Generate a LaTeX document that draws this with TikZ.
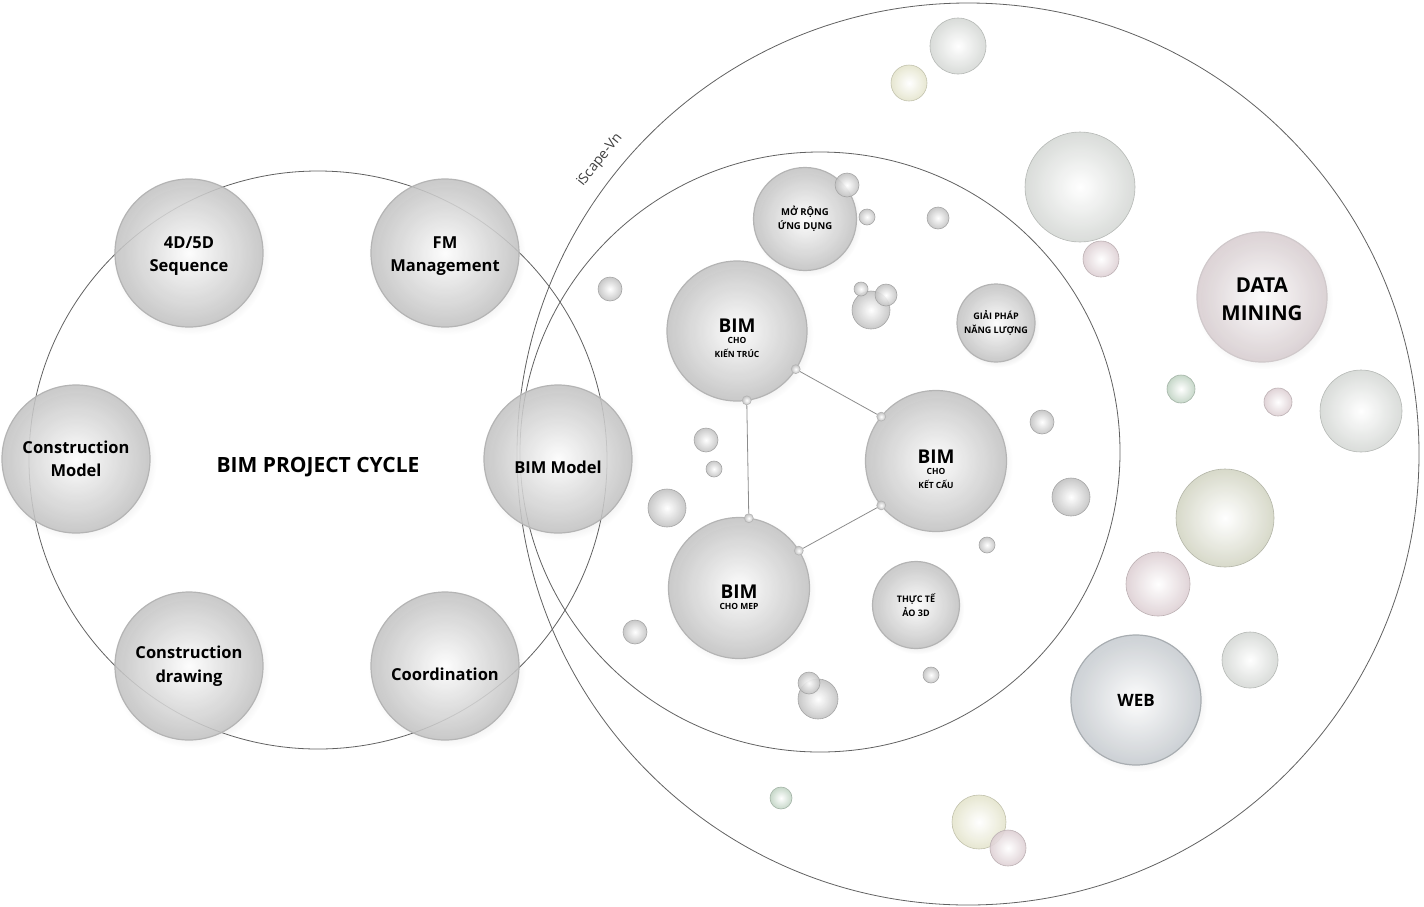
\documentclass[tikz,border=0pt]{standalone}
\usepackage{fontspec}
\setmainfont{Open Sans}
\usetikzlibrary{shadows,fadings}

\definecolor{ballgray}{HTML}{C2C2C2}
\definecolor{ballrim}{HTML}{B4B4B4}
\definecolor{pearlgray}{HTML}{D5D8D5}
\definecolor{pearlyellow}{HTML}{E4E4CC}
\definecolor{pearlpink}{HTML}{DDCFD3}
\definecolor{pearlgreen}{HTML}{C0D3C3}
\definecolor{pearlolive}{HTML}{D3D5C4}
\definecolor{pearlblue}{HTML}{C6CBD0}

\tikzstyle{ring} = [draw=black!62, line width=0.8pt]
\tikzstyle{sphere} = [circle, inner sep=0pt, outer sep=0pt, align=center,
    fill opacity=0.85, text opacity=1, inner color=white, outer color=ballgray,
    draw=ballrim, line width=1.2pt,
    circular drop shadow={shadow xshift=2pt, shadow yshift=-3pt, opacity=0.12, shadow scale=1.06}]
\tikzstyle{cyclefont} = [font=\bfseries\fontsize{16.5}{23.5}\selectfont]
\tikzstyle{smallfont} = [font=\bfseries\fontsize{8.5}{14}\selectfont]
\tikzstyle{joint} = [circle, inner sep=0pt, minimum size=9pt, inner color=white,
    outer color=ballgray, draw=ballrim, line width=0.6pt]
\tikzstyle{link} = [draw=black!45, line width=0.8pt]
\tikzset{pearl/.style={circle, inner sep=0pt, outer sep=0pt, fill opacity=0.9,
    inner color=white, outer color=#1, draw=#1!85!black, line width=0.6pt}}
% strut that pushes a label down inside its sphere
\newcommand{\lowstrut}[1]{\rule{0pt}{#1}}

\begin{document}
\begin{tikzpicture}[x=1pt, y=-1pt]
        \useasboundingbox (0,0) rectangle (1424,906);

        % big rings
        \node[circle, ring, minimum size=578pt, inner sep=0pt] (cycle) at (318,460) {};
        \node[circle, ring, minimum size=902pt, inner sep=0pt] (world) at (968,454) {};
        \node[circle, ring, minimum size=600pt, inner sep=0pt] (core) at (820,452) {};

        \node[font=\fontsize{14}{14}\selectfont, text=black!75, rotate=51.6] (brand) at (600,160) {iScape-Vn};
        \node[font=\bfseries\fontsize{21}{21}\selectfont] (title) at (318,467) {BIM PROJECT CYCLE};

        % project cycle
        \node[sphere, cyclefont, minimum size=148pt] (seq) at (189,253) {\lowstrut{18pt}4D/5D\\Sequence};
        \node[sphere, cyclefont, minimum size=148pt] (fm) at (445,253) {\lowstrut{18pt}FM\\Management};
        \node[sphere, cyclefont, minimum size=148pt] (cmodel) at (76,459) {Construction\\Model};
        \node[sphere, cyclefont, minimum size=148pt] (bimmodel) at (558,459) {\lowstrut{30pt}BIM Model};
        \node[sphere, cyclefont, minimum size=148pt] (drawing) at (189,666) {Construction\\drawing};
        \node[sphere, cyclefont, minimum size=148pt] (coord) at (445,666) {\lowstrut{30pt}Coordination};

        % BIM core
        \node[sphere, font=\bfseries\fontsize{9.5}{14}\selectfont, minimum size=103pt] (morong) at (805,219) {MỞ RỘNG\\ỨNG DỤNG};
        \node[sphere, smallfont, minimum size=140pt] (kientruc) at (737,331) {{\fontsize{19}{19}\selectfont\lowstrut{28pt}BIM}\\[-3pt]CHO\\KIẾN TRÚC};
        \node[sphere, smallfont, minimum size=141pt] (ketcau) at (936,461) {{\fontsize{19}{19}\selectfont\lowstrut{30pt}BIM}\\[-3pt]CHO\\KẾT CẤU};
        \node[sphere, smallfont, minimum size=141pt] (mep) at (739,588) {{\fontsize{19}{19}\selectfont\lowstrut{32pt}BIM}\\[-3pt]CHO MEP};
        \node[sphere, font=\bfseries\fontsize{9}{14}\selectfont, minimum size=78pt] (nangluong) at (996,323) {GIẢI PHÁP\\NĂNG LƯỢNG};
        \node[sphere, font=\bfseries\fontsize{9}{14}\selectfont, minimum size=87pt] (thucte) at (916,605) {THỰC TẾ\\ẢO 3D};

        % outer ring
        \node[sphere, outer color=pearlpink!80!ballgray, draw=pearlpink!80!black!60, font=\bfseries\fontsize{20.5}{28}\selectfont, minimum size=130pt] (data) at (1262,297) {\lowstrut{19pt}DATA\\MINING};
        \node[sphere, outer color=pearlblue, draw=pearlblue!85!black, font=\bfseries\fontsize{17}{20}\selectfont, minimum size=130pt] (web) at (1136,700) {WEB};

        % links between the BIM spheres
        \node[joint] (j1) at (kientruc.-33) {};
        \node[joint] (j2) at (ketcau.141) {};
        \node[joint] (j3) at (kientruc.-82) {};
        \node[joint] (j4) at (mep.82) {};
        \node[joint] (j5) at (mep.32) {};
        \node[joint] (j6) at (ketcau.-141) {};
        \draw[link] (j1) -- (j2);
        \draw[link] (j3) -- (j4);
        \draw[link] (j5) -- (j6);

        % floating bubbles
        \foreach \x/\y/\r [count=\i] in {847/185/12, 867/217/8, 938/218/11, 610/289/12,
            871/310/19, 861/289/7, 886/295/11, 706/440/12, 714/469/8, 667/508/19,
            1042/422/12, 1071/497/19, 987/545/8, 635/632/12, 818/699/20, 809/683/11, 931/675/8}
            \node[pearl=ballgray, minimum size=2*\r] (dot\i) at (\x,\y) {};
        \foreach \x/\y/\r/\c [count=\i] in {958/46/28/pearlgray, 909/83/18/pearlyellow,
            1080/187/55/pearlgray, 1101/259/18/pearlpink, 1181/389/14/pearlgreen,
            1278/402/14/pearlpink, 1361/411/41/pearlgray, 1225/518/49/pearlolive,
            1158/584/32/pearlpink, 1250/660/28/pearlgray, 979/822/27/pearlyellow,
            1008/848/18/pearlpink, 781/798/11/pearlgreen}
            \node[pearl=\c, minimum size=2*\r] (bead\i) at (\x,\y) {};
    \end{tikzpicture}
\end{document}
